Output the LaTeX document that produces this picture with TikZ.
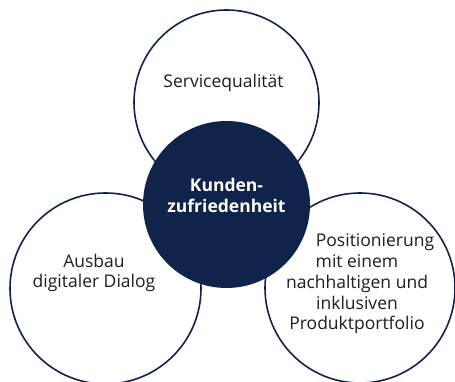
\documentclass[tikz,border=0pt]{standalone}
\usepackage{fontspec}
\setmainfont{Open Sans}
\usetikzlibrary{shapes}
\definecolor{navy}{HTML}{10234A}
\definecolor{ink}{HTML}{1E1E1E}
\tikzset{
  ring/.style={circle, draw=navy, line width=1.6pt, fill=white, inner sep=0pt},
  hub/.style={circle, fill=navy, inner sep=0pt},
  lbl/.style={align=center, text=ink, font=\fontsize{17.5}{20.7}\selectfont},
  hublbl/.style={align=center, text=white, font=\fontsize{17.5}{20.7}\selectfont\bfseries}
}
\begin{document}
\begin{tikzpicture}[x=1pt,y=-1pt]
    \useasboundingbox (0,0) rectangle (455,382);

    \node[ring, minimum size=185] (service) at (226.5,102.5) {};
    \node[ring, minimum size=191] (dialog) at (105.5,288.5) {};
    \node[ring, minimum size=190] (portfolio) at (360,288) {};
    \node[hub, minimum size=167] (kunde) at (226.5,204.5) {};

    \node[lbl] (servicetext) at (223.5,83) {Servicequalität};
    \node[lbl] (dialogtext) at (94,273) {Ausbau\\digitaler Dialog};
    \node[lbl] (portfoliotext) at (357,284) {\hspace*{36pt}Positionierung\\mit einem\\nachhaltigen und\\inklusiven\\Produktportfolio};
    \node[hublbl] (kundetext) at (226.5,195.5) {Kunden-\\zufriedenheit};
\end{tikzpicture}
\end{document}
